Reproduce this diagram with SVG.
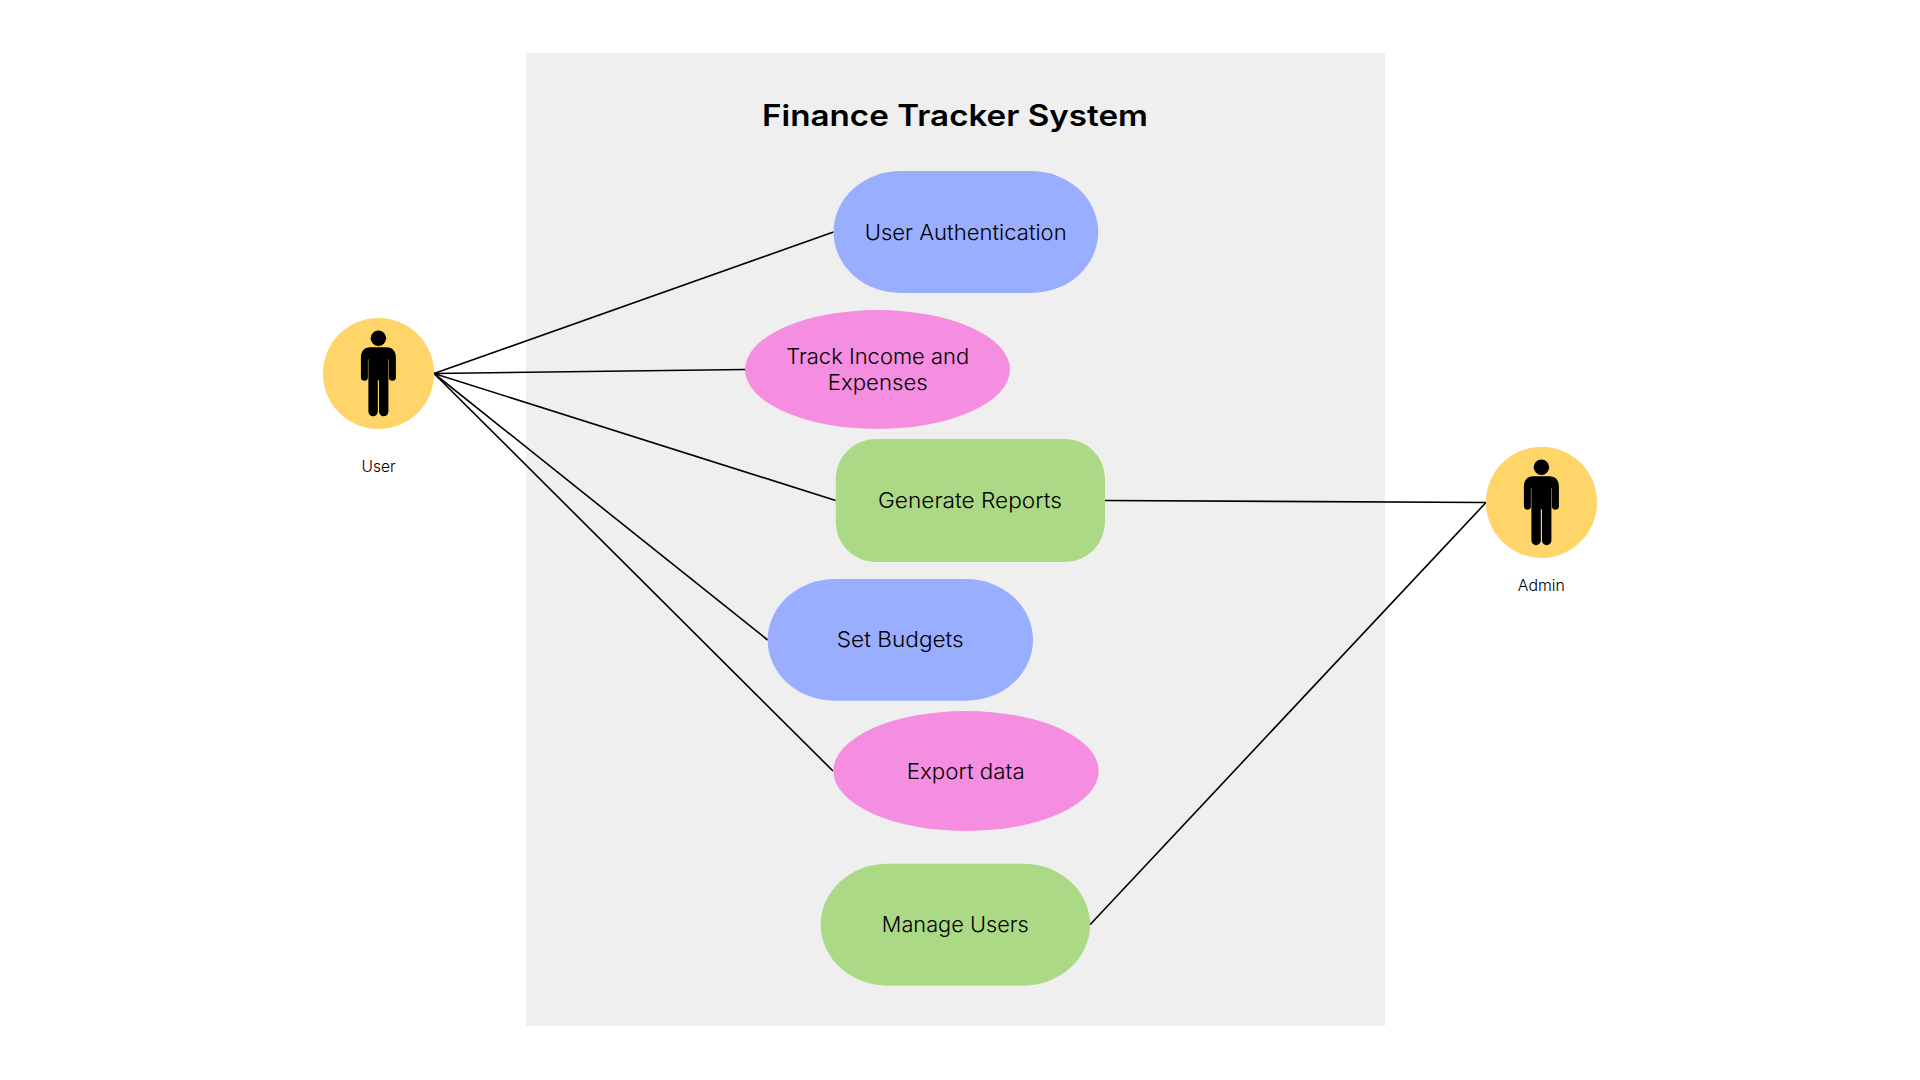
<svg xmlns="http://www.w3.org/2000/svg" xmlns:xlink="http://www.w3.org/1999/xlink" width="1920" height="1080" viewBox="0 0 1920 1080">
<style>
text{font-family:"Inter","Liberation Sans",sans-serif;fill:#000;text-anchor:middle}
.t{font-size:22px;font-weight:300}
.a{font-size:15.5px;font-weight:300}
.title{font-size:29.5px;font-weight:600}
.c line{stroke:#000;stroke-width:1.6}
.blue{fill:#9aaeff}.pink{fill:#f58ee1}.green{fill:#acd986}.actor{fill:#ffd469}
</style>
<defs>
<path id="person" d="M-8 0H8C14 0 17.5 4 17.5 10V30a3.5 3.5 0 0 1-7 0V12H10V64.3a4.7 4.7 0 0 1-9.4 0V33H-.6V64.3a4.7 4.7 0 0 1-9.4 0V12H-10.5V30a3.5 3.5 0 0 1-7 0V10C-17.5 4-14 0-8 0Z"/>
</defs>
<rect width="1920" height="1080" fill="#fff"/>
<rect id="system-boundary" x="526" y="53" width="859" height="973" fill="#efefef"/>
<text class="title" x="955" y="126" textLength="386" lengthAdjust="spacingAndGlyphs">Finance Tracker System</text>
<g id="connectors" class="c">
<line x1="434" y1="373.5" x2="833.5" y2="232"/>
<line x1="434" y1="373.5" x2="745" y2="369.5"/>
<line x1="434" y1="373.5" x2="835.7" y2="500.5"/>
<line x1="434" y1="373.5" x2="767.7" y2="640"/>
<line x1="434" y1="373.5" x2="833" y2="771"/>
<line x1="1105" y1="500.5" x2="1486" y2="502.5"/>
<line x1="1090" y1="924.7" x2="1486" y2="502.5"/>
</g>
<g id="user-authentication">
<rect class="blue" x="833.5" y="171" width="264.7" height="122" rx="67" ry="61"/>
<text class="t" x="965.7" y="240" textLength="202" lengthAdjust="spacingAndGlyphs">User Authentication</text>
</g>
<g id="track-income">
<ellipse class="pink" cx="877.5" cy="369.5" rx="132.5" ry="59.5"/>
<text class="t" x="877.7" y="364" textLength="183" lengthAdjust="spacingAndGlyphs">Track Income and</text>
<text class="t" x="877.7" y="390" textLength="100" lengthAdjust="spacingAndGlyphs">Expenses</text>
</g>
<g id="generate-reports">
<rect class="green" x="835.7" y="439" width="269.3" height="123" rx="40"/>
<text class="t" x="970" y="508" textLength="184" lengthAdjust="spacingAndGlyphs">Generate Reports</text>
</g>
<g id="set-budgets">
<rect class="blue" x="767.7" y="579" width="265.3" height="121.7" rx="67" ry="60.8"/>
<text class="t" x="900.3" y="647.3" textLength="127" lengthAdjust="spacingAndGlyphs">Set Budgets</text>
</g>
<g id="export-data">
<ellipse class="pink" cx="966" cy="771" rx="132.7" ry="60"/>
<text class="t" x="965.7" y="779.3" textLength="118" lengthAdjust="spacingAndGlyphs">Export data</text>
</g>
<g id="manage-users">
<rect class="green" x="820.7" y="863.7" width="269.3" height="122" rx="67" ry="61"/>
<text class="t" x="955.3" y="932.3" textLength="147" lengthAdjust="spacingAndGlyphs">Manage Users</text>
</g>
<g id="actor-user">
<circle class="actor" cx="378.5" cy="373.5" r="55.6"/>
<circle cx="378.4" cy="338.3" r="7.7"/>
<use xlink:href="#person" href="#person" x="378.4" y="347.3"/>
<text class="a" x="378.5" y="472" textLength="34" lengthAdjust="spacingAndGlyphs">User</text>
</g>
<g id="actor-admin">
<circle class="actor" cx="1541.5" cy="502.3" r="55.6"/>
<circle cx="1541.4" cy="467.2" r="7.7"/>
<use xlink:href="#person" href="#person" x="1541.4" y="476.2"/>
<text class="a" x="1541.3" y="591" textLength="47" lengthAdjust="spacingAndGlyphs">Admin</text>
</g>
</svg>
